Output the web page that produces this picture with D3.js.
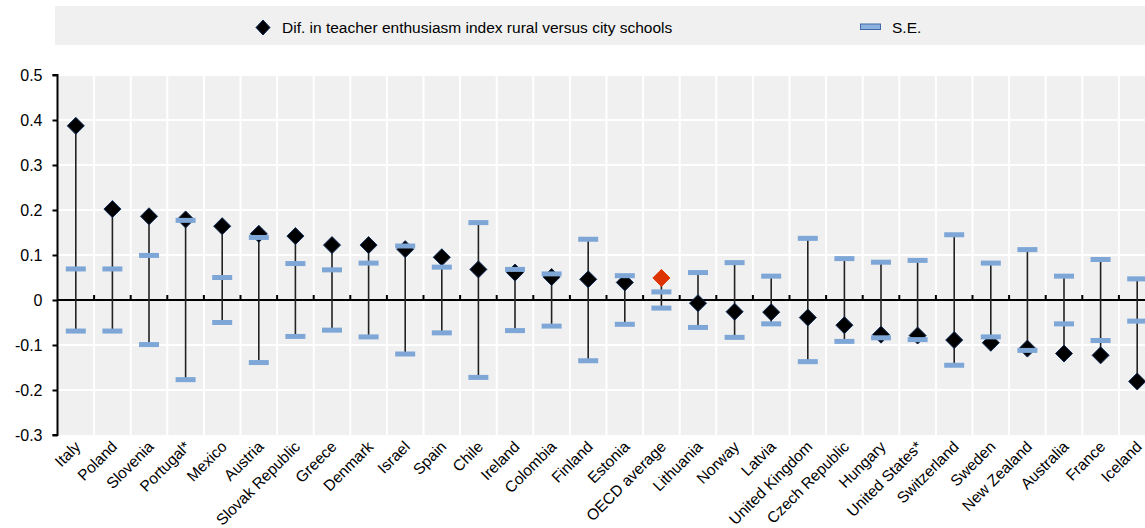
<!DOCTYPE html>
<html>
<head>
<meta charset="utf-8">
<script src="https://cdn.jsdelivr.net/npm/d3@7"></script>
<style>
  html, body { margin: 0; padding: 0; background: #fff; }
  svg { display: block; font-family: "Liberation Sans", Arial, sans-serif; }
</style>
</head>
<body>
<svg id="chart" width="1145" height="528"></svg>
<script>
// Countries, ordered by the rural-versus-city difference
const categories = ["Italy", "Poland", "Slovenia", "Portugal*", "Mexico", "Austria",
  "Slovak Republic", "Greece", "Denmark", "Israel", "Spain", "Chile", "Ireland",
  "Colombia", "Finland", "Estonia", "OECD average", "Lithuania", "Norway", "Latvia",
  "United Kingdom", "Czech Republic", "Hungary", "United States*", "Switzerland",
  "Sweden", "New Zealand", "Australia", "France", "Iceland"];

// Difference in teacher enthusiasm index, rural versus city schools
const differences = [0.387, 0.202, 0.186, 0.179, 0.164, 0.147,
  0.142, 0.122, 0.122, 0.113, 0.095, 0.068, 0.061,
  0.051, 0.046, 0.039, 0.049, -0.007, -0.026, -0.027,
  -0.039, -0.056, -0.077, -0.079, -0.089,
  -0.095, -0.108, -0.119, -0.123, -0.181];

// Standard errors (drawn as +S.E. and -S.E. around zero)
const standardErrors = [0.069, 0.069, 0.099, 0.177, 0.050, 0.139,
  0.081, 0.067, 0.082, 0.120, 0.073, 0.172, 0.068,
  0.058, 0.135, 0.054, 0.018, 0.061, 0.083, 0.053,
  0.137, 0.092, 0.084, 0.088, 0.145,
  0.082, 0.112, 0.053, 0.090, 0.047];

const yTicks = [-0.3, -0.2, -0.1, 0, 0.1, 0.2, 0.3, 0.4, 0.5];

const legendLabels = ["Dif. in teacher enthusiasm index rural versus city schools", "S.E."];

const rows = categories.map((c, i) => ({ name: c, value: differences[i], se: standardErrors[i] }));

const svg = d3.select("#chart");
const W = 1145;
const plotLeft = 57.5, step = 36.6;
const plotTop = 75, plotBottom = 435;

const x = d3.scaleBand().domain(categories).range([plotLeft, plotLeft + step * categories.length]).padding(0);
const y = d3.scaleLinear().domain([-0.3, 0.5]).range([plotBottom, plotTop]);
const cx = name => x(name) + x.bandwidth() / 2;

const seColor = "#7ea7d8";
const diamondStroke = "#0c2a56";
const avgColor = "#dd3300";

// Diamond path with the given half-diagonals
const diamond = (rx, ry) => `M0,${-ry}L${rx},0L0,${ry}L${-rx},0Z`;

// Legend band
const legend = svg.append("g");
legend.append("rect").attr("x", 55).attr("y", 6).attr("width", W - 55).attr("height", 39).attr("fill", "#f0f0f0");
legend.append("path")
  .attr("d", diamond(7, 7.5))
  .attr("transform", "translate(263,27.5)")
  .attr("fill", "#000").attr("stroke", diamondStroke).attr("stroke-width", 1);
legend.append("text").attr("x", 282).attr("y", 33).attr("font-size", 15.5).attr("fill", "#000").text(legendLabels[0]);
legend.append("rect").attr("x", 860.5).attr("y", 24).attr("width", 20).attr("height", 5.5)
  .attr("fill", "#8db2e0").attr("stroke", "#3f6aa6").attr("stroke-width", 1);
legend.append("text").attr("x", 892).attr("y", 33).attr("font-size", 15.5).attr("fill", "#000").text(legendLabels[1]);

// Plot background and grid
svg.append("rect").attr("x", plotLeft).attr("y", plotTop).attr("width", W - plotLeft).attr("height", plotBottom - plotTop).attr("fill", "#f0f0f0");
const grid = svg.append("g").attr("stroke", "#fff").attr("stroke-width", 2);
grid.selectAll("line.h").data(yTicks.filter(t => t !== -0.3)).join("line")
  .attr("x1", plotLeft).attr("x2", W).attr("y1", d => y(d)).attr("y2", d => y(d));
grid.selectAll("line.v").data(categories.slice(1)).join("line")
  .attr("x1", d => x(d)).attr("x2", d => x(d)).attr("y1", plotTop).attr("y2", plotBottom);

// Y axis
const yAxis = svg.append("g").attr("transform", `translate(${plotLeft},0)`)
  .call(d3.axisLeft(y).tickValues(yTicks).tickSize(5).tickPadding(10)
    .tickFormat(d => d === 0 ? "0" : d.toFixed(1)));
yAxis.select(".domain").attr("stroke", "#000").attr("stroke-width", 2).attr("d", `M-5,${plotTop}H0V${plotBottom}H-5`);
yAxis.selectAll(".tick line").attr("stroke", "#000").attr("stroke-width", 2);
yAxis.selectAll(".tick text").attr("font-size", 16).attr("fill", "#000")
  .attr("font-family", "\"Liberation Sans\", Arial, sans-serif");

// Zero line with category ticks
const zeroY = y(0);
svg.append("line").attr("x1", plotLeft).attr("x2", W).attr("y1", zeroY).attr("y2", zeroY)
  .attr("stroke", "#000").attr("stroke-width", 2);
svg.append("g").selectAll("line").data(categories.slice(1)).join("line")
  .attr("x1", d => x(d)).attr("x2", d => x(d)).attr("y1", zeroY).attr("y2", zeroY - 5)
  .attr("stroke", "#000").attr("stroke-width", 2);

// Category labels
svg.append("g").selectAll("text").data(categories).join("text")
  .attr("transform", d => `translate(${cx(d) - 2},${plotBottom + 5}) rotate(-45)`)
  .attr("text-anchor", "end").attr("dy", "0.7em")
  .attr("font-size", 15.5).attr("fill", "#000").text(d => d);

// Range lines from value to the opposite S.E. marker
svg.append("g").selectAll("line").data(rows).join("line")
  .attr("x1", d => cx(d.name)).attr("x2", d => cx(d.name))
  .attr("y1", d => y(Math.max(d.value, d.se))).attr("y2", d => y(Math.min(d.value, -d.se)))
  .attr("stroke", "#222").attr("stroke-width", 1.6);

// Diamonds
svg.append("g").selectAll("path").data(rows).join("path")
  .attr("d", diamond(8.5, 8.5))
  .attr("transform", d => `translate(${cx(d.name)},${y(d.value)})`)
  .attr("fill", d => d.name === "OECD average" ? avgColor : "#000")
  .attr("stroke", d => d.name === "OECD average" ? avgColor : diamondStroke)
  .attr("stroke-width", 1);

// S.E. markers
const seMarks = rows.flatMap(d => [{ name: d.name, v: d.se }, { name: d.name, v: -d.se }]);
svg.append("g").selectAll("rect").data(seMarks).join("rect")
  .attr("x", d => cx(d.name) - 10).attr("width", 20)
  .attr("y", d => y(d.v) - 2.5).attr("height", 5)
  .attr("fill", seColor);
</script>
</body>
</html>
